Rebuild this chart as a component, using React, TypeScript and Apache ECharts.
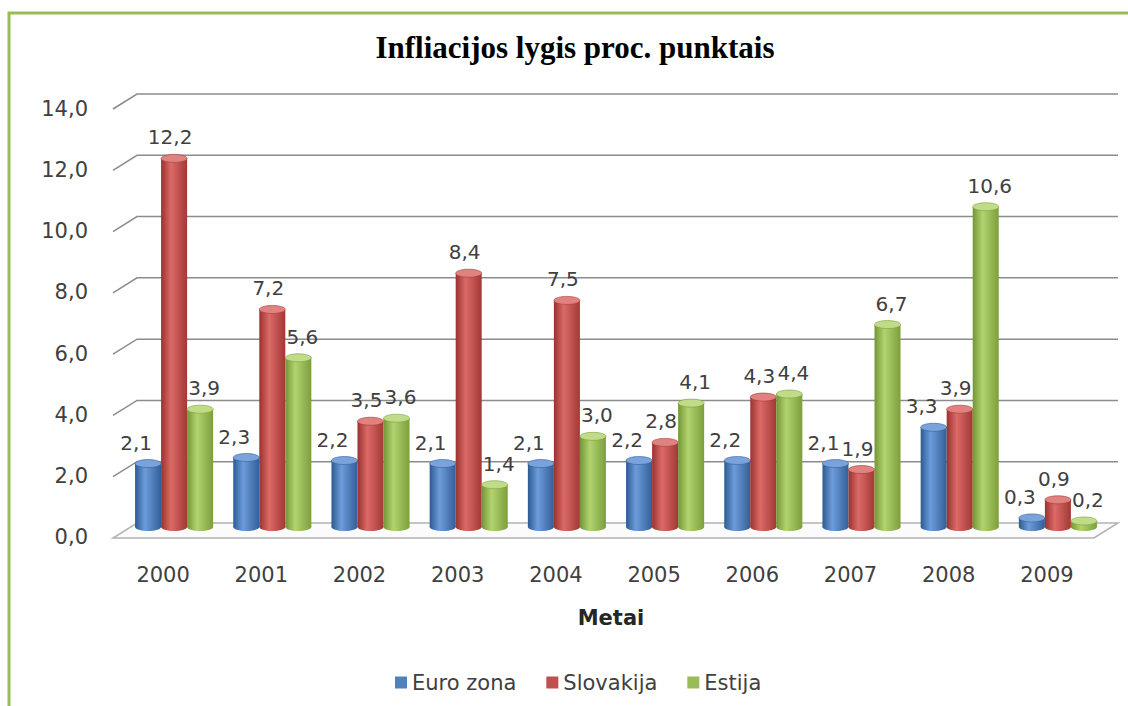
import React, { useEffect, useRef } from "react";
import * as echarts from "echarts";

const years = ["2000", "2001", "2002", "2003", "2004", "2005", "2006", "2007", "2008", "2009"];
const euroZona = [2.1, 2.3, 2.2, 2.1, 2.1, 2.2, 2.2, 2.1, 3.3, 0.3];
const slovakija = [12.2, 7.2, 3.5, 8.4, 7.5, 2.8, 4.3, 1.9, 3.9, 0.9];
const estija = [3.9, 5.6, 3.6, 1.4, 3.0, 4.1, 4.4, 6.7, 10.6, 0.2];
const yTicks = [0, 2, 4, 6, 8, 10, 12, 14];
const seriesNames = ["Euro zona", "Slovakija", "Estija"];

const palettes = [
  { base: "#4f81bd", dark: "#2c5a92", light: "#6d9cdb", right: "#325f98", top: "#7aa3dc" },
  { base: "#c0504d", dark: "#983230", light: "#dc6a67", right: "#a23835", top: "#e08380" },
  { base: "#9bbb59", dark: "#739636", light: "#b2d36e", right: "#7c9f3c", top: "#c0dc88" },
];
const labelShift = [-12, -4, 4];

const FONT = "DejaVu Sans";
const fmt = (v: number) => v.toFixed(1).replace(".", ",");

function cylinder(i: number) {
  const pal = palettes[i];
  return (params: any, api: any) => {
    const cat = api.value(0);
    const v = api.value(1);
    const top = api.coord([cat, v]);
    const base = api.coord([cat, 0]);
    const band = api.size([1, 0])[0];
    const bw = band * 0.265;
    const cx = top[0] + (i - 1) * bw;
    const ry = 4;
    const grad = new echarts.graphic.LinearGradient(0, 0, 1, 0, [
      { offset: 0, color: pal.dark },
      { offset: 0.38, color: pal.light },
      { offset: 1, color: pal.right },
    ]);
    return {
      type: "group",
      children: [
        { type: "ellipse", shape: { cx, cy: base[1], rx: bw / 2, ry }, style: { fill: grad } },
        {
          type: "rect",
          shape: { x: cx - bw / 2, y: top[1], width: bw, height: base[1] - top[1] },
          style: { fill: grad },
        },
        {
          type: "ellipse",
          shape: { cx, cy: top[1], rx: bw / 2, ry },
          style: { fill: pal.top, stroke: pal.right, lineWidth: 0.6 },
        },
        {
          type: "text",
          style: {
            text: fmt(v),
            x: cx + labelShift[i],
            y: top[1] - 21,
            align: "center",
            verticalAlign: "middle",
            fontSize: 20,
            fontFamily: FONT,
            fill: "#404040",
          },
        },
      ],
    };
  };
}

function wallRender(params: any, api: any) {
  const v = api.value(1);
  const p0 = api.coord([0, v]);
  const p1 = api.coord([1, v]);
  const dx = 24;
  const dy = 15;
  if (v === 0) {
    return {
      type: "polygon",
      shape: {
        points: [
          [p0[0], p0[1]],
          [p1[0], p1[1]],
          [p1[0] - dx, p1[1] + dy],
          [p0[0] - dx, p0[1] + dy],
        ],
      },
      style: { fill: "#fbfbfb", stroke: "#b3b3b3", lineWidth: 1.5 },
    };
  }
  return {
    type: "polyline",
    shape: {
      points: [
        [p0[0] - dx, p0[1] + dy],
        [p0[0], p0[1]],
        [p1[0], p1[1]],
      ],
    },
    style: { fill: "none", stroke: "#8c8c8c", lineWidth: 1.5 },
  };
}

export default function App() {
  const ref = useRef<HTMLDivElement>(null);
  useEffect(() => {
    if (!ref.current) return;
    const chart = echarts.init(ref.current, undefined, { renderer: "svg" });
    const values = [euroZona, slovakija, estija];
    chart.setOption({
      animation: false,
      backgroundColor: "#ffffff",
      grid: [
        { left: 125, right: 21, top: 104, bottom: 179 },
        { left: 137, right: 10, top: 94, bottom: 183 },
        { left: 114, right: 32, top: 109, bottom: 169 },
      ],
      xAxis: [
        { type: "category", data: years, gridIndex: 0, show: false },
        { type: "value", min: 0, max: 1, gridIndex: 1, show: false },
        {
          type: "category",
          data: years,
          gridIndex: 2,
          axisLine: { show: false },
          axisTick: { show: false },
          axisLabel: { margin: 27, fontSize: 21, fontFamily: FONT, color: "#404040" },
          name: "Metai",
          nameLocation: "middle",
          nameGap: 70,
          nameTextStyle: { fontSize: 21, fontWeight: "bold", fontFamily: FONT, color: "#262626", padding: [0, 0, 0, 12] },
        },
      ],
      yAxis: [
        { type: "value", min: 0, max: 14, interval: 2, gridIndex: 0, show: false },
        { type: "value", min: 0, max: 14, interval: 2, gridIndex: 1, show: false },
        {
          type: "value",
          min: 0,
          max: 14,
          interval: 2,
          gridIndex: 2,
          axisLine: { show: false },
          axisTick: { show: false },
          splitLine: { show: false },
          axisLabel: {
            margin: 26,
            fontSize: 21,
            fontFamily: FONT,
            color: "#404040",
            formatter: (v: number) => fmt(v),
          },
        },
      ],
      legend: {
        data: seriesNames,
        top: 667,
        left: 390,
        icon: "rect",
        itemWidth: 12,
        itemHeight: 12,
        itemGap: 30,
        textStyle: { fontSize: 21, fontFamily: FONT, color: "#404040" },
      },
      graphic: [
        {
          type: "rect",
          shape: { x: 9, y: 13, width: 1200, height: 800 },
          style: { fill: "none", stroke: "#9bbb59", lineWidth: 3 },
          z: 0,
        },
        {
          type: "text",
          x: 575,
          y: 47,
          style: {
            text: "Infliacijos lygis proc. punktais",
            align: "center",
            verticalAlign: "middle",
            fontSize: 31,
            fontWeight: "bold",
            fontFamily: "Liberation Serif",
            fill: "#000000",
          },
        },
      ],
      series: [
        {
          type: "custom",
          name: "wall",
          xAxisIndex: 1,
          yAxisIndex: 1,
          z: 1,
          silent: true,
          renderItem: wallRender,
          data: yTicks.map((v) => [0, v]),
          encode: { x: 0, y: 1 },
        },
        ...seriesNames.map((name, i) => ({
          type: "custom",
          name,
          xAxisIndex: 0,
          yAxisIndex: 0,
          z: 2 + i,
          itemStyle: { color: palettes[i].base },
          renderItem: cylinder(i),
          data: values[i].map((v, k) => [k, v]),
          encode: { x: 0, y: 1 },
        })),
      ],
    });
    return () => chart.dispose();
  }, []);
  return (
    <div
      ref={ref}
      style={{ position: "absolute", left: 0, top: 0, width: 1128, height: 706 }}
    />
  );
}
